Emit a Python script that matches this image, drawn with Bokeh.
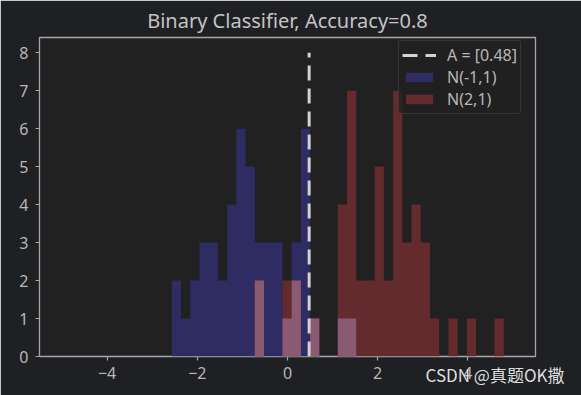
import numpy as np
from bokeh.plotting import figure
from bokeh.models import Range1d, FixedTicker, Title, Legend, LegendItem, ColumnDataSource
from bokeh.embed import file_html
from bokeh.resources import INLINE

# ---------------- data ----------------
title_text = "Binary Classifier, Accuracy=0.8"
threshold = 0.48
line_label = "A = [0.48]"
blue_label = "N(-1,1)"
red_label = "N(2,1)"
watermark = "CSDN @真题OK撒"

bin_lo = -2.566
bin_hi = 4.796
blue_counts = [2, 1, 2, 3, 3, 2, 4, 6, 5, 3, 3, 3, 1, 3, 6, 1, 0, 0,
               1, 1, 0, 0, 0, 0, 0, 0, 0, 0, 0, 0, 0, 0, 0, 0, 0, 0]
red_counts = [0, 0, 0, 0, 0, 0, 0, 0, 0, 2, 0, 0, 2, 2, 0, 1, 0, 0,
              4, 7, 2, 2, 5, 2, 7, 3, 4, 3, 1, 0, 1, 0, 1, 0, 0, 1]
x_tick_values = [-4, -2, 0, 2, 4]
x_tick_labels = ["\u22124", "\u22122", "0", "2", "4"]
y_tick_values = [0, 1, 2, 3, 4, 5, 6, 7, 8]
line_y = [0, 8]
x_limits = (-5.5, 5.5)
y_limits = (0, 8.4)

# ---------------- build ----------------
n_bins = len(blue_counts)
edges = np.linspace(bin_lo, bin_hi, n_bins + 1)
blue = np.array(blue_counts)
red = np.array(red_counts)
overlap = np.minimum(blue, red)

src = ColumnDataSource(dict(
    x=edges,
    blue=np.append(blue, 0),
    red=np.append(red, 0),
    both=np.append(overlap, 0),
))

BG_OUT = "#1f2023"
BG_IN = "#212121"
TXT = "#b8b8b8"
FONT = "Noto Sans"
C_BLUE = "#2e2c63"
C_RED = "#632b2d"
C_PINK = "#8a5a72"

p = figure(width=581, height=395, x_range=Range1d(*x_limits), y_range=Range1d(*y_limits),
           output_backend="svg", toolbar_location=None,
           min_border_left=39, min_border_right=46, min_border_top=34, min_border_bottom=39)
p.title.text = title_text
p.title.align = "center"
p.title.text_font = FONT
p.title.text_font_size = "20px"
p.title.text_font_style = "normal"
p.title.text_color = "#c4c4c4"
p.title.standoff = 8
p.background_fill_color = BG_IN
p.border_fill_color = BG_OUT
p.outline_line_color = "#a6a6a6"
p.outline_line_width = 1.3
p.xgrid.visible = False
p.ygrid.visible = False

blue_r = p.varea_step(x="x", y1=0, y2="blue", step_mode="after", source=src, fill_color=C_BLUE)
red_r = p.varea_step(x="x", y1=0, y2="red", step_mode="after", source=src, fill_color=C_RED)
p.varea_step(x="x", y1=0, y2="both", step_mode="after", source=src, fill_color=C_PINK)

line_r = p.line(x=[threshold, threshold], y=line_y, line_color="#d2d2d2", line_width=3,
                line_dash="15 8")

for ax in (p.xaxis[0], p.yaxis[0]):
    ax.axis_line_color = None
    ax.major_tick_line_color = "#a6a6a6"
    ax.major_tick_line_width = 1.2
    ax.major_tick_out = 4
    ax.major_tick_in = 0
    ax.minor_tick_line_color = None
    ax.major_label_text_color = TXT
    ax.major_label_text_font = FONT
    ax.major_label_text_font_size = "16px"
p.xaxis.ticker = FixedTicker(ticks=x_tick_values)
p.xaxis.major_label_overrides = {v: s for v, s in zip(x_tick_values, x_tick_labels)}
p.xaxis.major_label_standoff = 6
p.yaxis.ticker = FixedTicker(ticks=y_tick_values)
p.yaxis.major_label_standoff = 7

legend = Legend(items=[LegendItem(label=line_label, renderers=[line_r]),
                       LegendItem(label=blue_label, renderers=[blue_r]),
                       LegendItem(label=red_label, renderers=[red_r])],
                location=(359, 242))
legend.margin = 0
legend.padding = 3
legend.spacing = 0
legend.label_height = 16
legend.glyph_height = 12
legend.glyph_width = 34
legend.label_standoff = 11
legend.label_text_font = FONT
legend.label_text_font_size = "16px"
legend.label_text_color = TXT
legend.background_fill_color = BG_IN
legend.background_fill_alpha = 0.8
legend.border_line_color = "#4a4a4a"
legend.border_line_width = 1.3
legend.border_radius = 3
p.add_layout(legend)

wm = Title(text=watermark, align="right", offset=-29, vertical_align="top", standoff=-40,
           text_font="Noto Sans CJK SC", text_font_size="17px", text_font_style="normal",
           text_color="#dedede")
p.add_layout(wm, "below")

open("out.html", "w").write(file_html(p, INLINE))
